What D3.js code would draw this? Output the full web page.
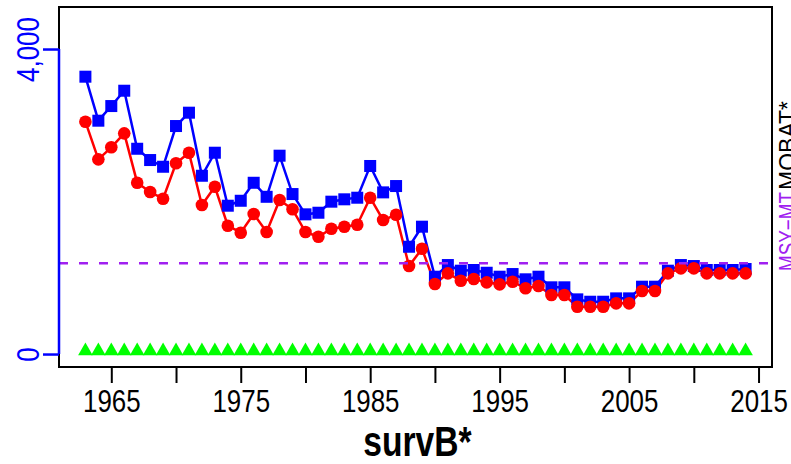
<!DOCTYPE html>
<html>
<head>
<meta charset="utf-8">
<script src="https://cdn.jsdelivr.net/npm/d3@7"></script>
<style>
html,body{margin:0;padding:0;background:#fff;}
svg{display:block;}
text{font-family:"Liberation Sans", Arial, Helvetica, sans-serif;}
</style>
</head>
<body>
<svg id="chart" width="791" height="464"></svg>
<script>
// ---- data ----
const years = d3.range(1963, 2015);
const blueSeries = [3637,3060,3252,3453,2692,2544,2456,2990,3165,2338,
                    2640,1945,2010,2246,2062,2601,2098,1832,1853,1998,
                    2029,2050,2466,2120,2203,1407,1670,1014,1167,1093,
                    1102,1066,1014,1049,980,1014,875,875,717,686,
                    686,730,730,883,883,1093,1167,1154,1102,1102,
                    1102,1115];
const redSeries  = [3047,2553,2711,2894,2247,2125,2037,2501,2640,1954,
                    2194,1683,1591,1836,1600,2020,1898,1600,1538,1643,
                    1670,1696,2050,1757,1827,1154,1381,918,1058,961,
                    984,940,914,948,862,892,774,774,620,620,
                    620,665,665,826,826,1058,1124,1124,1058,1058,
                    1058,1058];
const greenSeries = [40,40,40,40,40,40,40,40,40,40,40,40,40,40,40,40,40,40,40,40,
                     40,40,40,40,40,40,40,40,40,40,40,40,40,40,40,40,40,40,40,40,
                     40,40,40,40,40,40,40,40,40,40,40,40];
const refLine = 1190;
const xTicks = [1965,1970,1975,1980,1985,1990,1995,2000,2005,2010,2015];
const xLabels = [1965,1975,1985,1995,2005,2015];
const yTicks = [0, 4000];
const xTitle = "survB*";
const rightLabel1 = "MSY\u2212MT";
const rightLabel2 = "MOBAT*";

// ---- layout ----
const L = 59, R = 772, T = 7, B = 367;
const svg = d3.select("#chart");
const x = d3.scaleLinear().domain([1960.96, 2016.04]).range([L, R]);
const y = d3.scaleLinear().domain([-170, 4551]).range([B, T]);

const BLUE = "#0000ff", RED = "#ff0000", GREEN = "#00ff00", PURPLE = "#a020f0";

// green triangles
const tri = d3.symbol().type(d3.symbolTriangle).size(92);
svg.append("g").selectAll("path").data(greenSeries).join("path")
  .attr("d", tri)
  .attr("transform", (d,i) => `translate(${x(years[i])},${y(d)})`)
  .attr("fill", GREEN);

// lines
const line = d3.line().x((d,i) => x(years[i])).y(d => y(d));
svg.append("path").datum(blueSeries).attr("d", line)
  .attr("fill","none").attr("stroke",BLUE).attr("stroke-width",2.5);
svg.append("path").datum(redSeries).attr("d", line)
  .attr("fill","none").attr("stroke",RED).attr("stroke-width",2.5);

// blue squares
const sq = 12;
svg.append("g").selectAll("rect").data(blueSeries).join("rect")
  .attr("x", (d,i) => x(years[i]) - sq/2)
  .attr("y", d => y(d) - sq/2)
  .attr("width", sq).attr("height", sq)
  .attr("fill", BLUE);

// red circles
svg.append("g").selectAll("circle").data(redSeries).join("circle")
  .attr("cx", (d,i) => x(years[i]))
  .attr("cy", d => y(d))
  .attr("r", 6.3)
  .attr("fill", RED);

// reference dashed line
svg.append("line")
  .attr("x1", L).attr("x2", R)
  .attr("y1", y(refLine)).attr("y2", y(refLine))
  .attr("stroke", PURPLE).attr("stroke-width", 2.5)
  .attr("stroke-dasharray", "9,11");

// box
svg.append("rect").attr("x", L).attr("y", T).attr("width", R-L).attr("height", B-T)
  .attr("fill","none").attr("stroke","#000").attr("stroke-width",2);

// x axis
const xAxis = d3.axisBottom(x).tickValues(xTicks).tickSize(16).tickPadding(6)
  .tickFormat(d => xLabels.includes(d) ? String(d) : "");
const gx = svg.append("g").attr("transform", `translate(0,${B})`).call(xAxis);
gx.select(".domain").remove();
gx.selectAll(".tick line").attr("stroke","#000").attr("stroke-width",2);
gx.selectAll(".tick text")
  .attr("font-size", 32).attr("fill","#000")
  .attr("dy", null).attr("y", 0)
  .attr("transform", "translate(0,45) scale(0.81,1)");

// y axis (blue)
const yAxis = d3.axisLeft(y).tickValues(yTicks).tickSize(16).tickFormat(d3.format(","));
const gy = svg.append("g").attr("transform", `translate(${L},0)`).call(yAxis);
gy.select(".domain").attr("stroke", BLUE).attr("stroke-width", 2.5)
  .attr("d", `M0,${y(4000)}V${y(0)}`);
gy.selectAll(".tick line").attr("stroke", BLUE).attr("stroke-width", 2.5);
gy.selectAll(".tick text")
  .attr("fill", BLUE).attr("font-size", 32)
  .attr("x", null).attr("dy", null)
  .attr("text-anchor", "middle")
  .attr("transform", "translate(-20,0) rotate(-90) scale(0.81,1)");

// x title
svg.append("text")
  .attr("transform", `translate(${(L+R)/2 + 2},456) scale(0.8,1)`)
  .attr("text-anchor","middle")
  .attr("font-size", 42).attr("font-weight","bold")
  .attr("fill","#000")
  .text(xTitle);

// right side labels (clipped at the page edge, as in the reference)
svg.append("text")
  .attr("transform", `translate(795.5,271) rotate(-90) scale(0.82,1)`)
  .attr("text-anchor","start")
  .attr("font-size", 23).attr("fill", PURPLE)
  .text(rightLabel1);
svg.append("text")
  .attr("transform", `translate(795.5,190) rotate(-90)`)
  .attr("text-anchor","start")
  .attr("font-size", 23).attr("fill", "#000")
  .text(rightLabel2);
</script>
</body>
</html>
